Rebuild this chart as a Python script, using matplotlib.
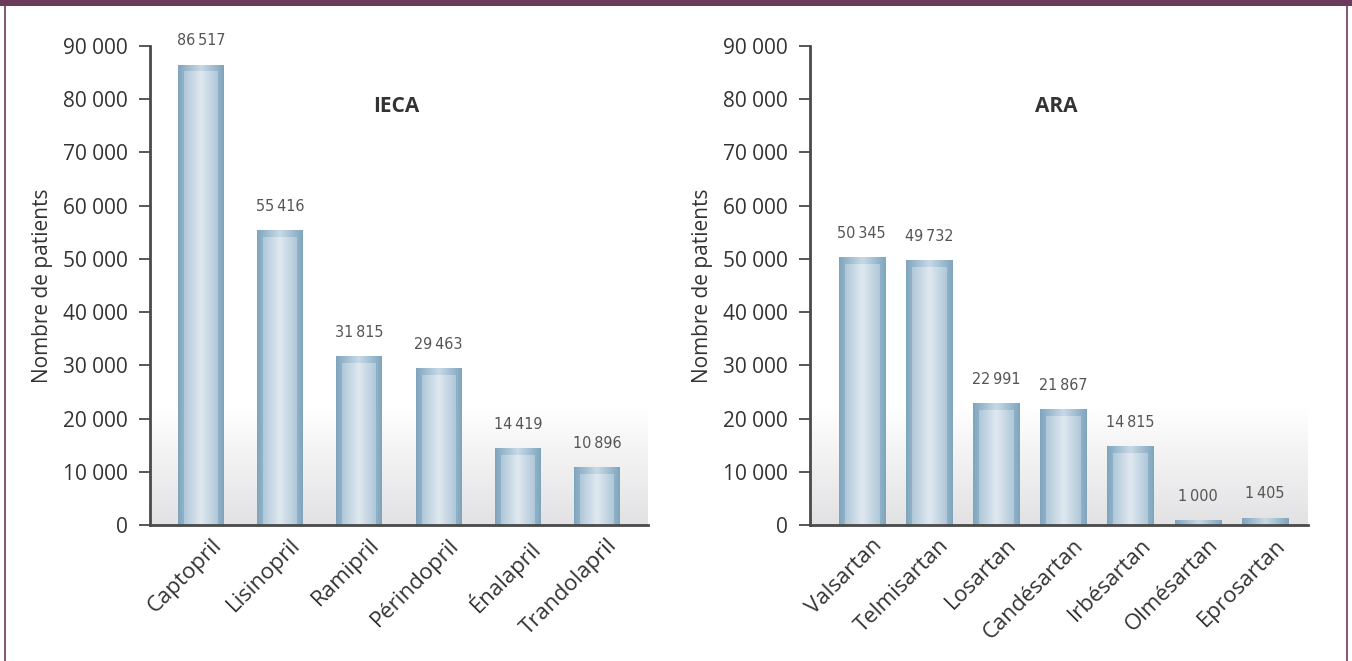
import numpy as np
import matplotlib
matplotlib.use('Agg')
import matplotlib.pyplot as plt
from matplotlib.colors import LinearSegmentedColormap
from matplotlib.patches import Rectangle
from matplotlib.lines import Line2D
from matplotlib.ticker import FuncFormatter
from matplotlib.transforms import ScaledTranslation

# data
ieca_names  = ['Captopril', 'Lisinopril', 'Ramipril', 'Périndopril', 'Énalapril', 'Trandolapril']
ieca_values = [86517, 55416, 31815, 29463, 14419, 10896]

ara_names  = ['Valsartan', 'Telmisartan', 'Losartan', 'Candésartan', 'Irbésartan', 'Olmésartan', 'Eprosartan']
ara_values = [50345, 49732, 22991, 21867, 14815, 1000, 1405]

y_ticks = [0, 10000, 20000, 30000, 40000, 50000, 60000, 70000, 80000, 90000]

# style
frame_col = '#6b3b5c'
text_col  = '#333333'
spine_col = '#4a4a4a'
main_font = ['Open Sans', 'DejaVu Sans']
narrow_font = ['DejaVu Sans']

outer_cmap = LinearSegmentedColormap.from_list('outer', ['#7ea5be', '#c8d9e6', '#7ea5be'])
inner_cmap = LinearSegmentedColormap.from_list('inner', ['#b0c8d9', '#dfe8f0', '#b0c8d9'])
bg_cmap    = LinearSegmentedColormap.from_list('bg', ['#e2e1e3', '#ffffff'])

grad = np.linspace(0, 1, 256).reshape(1, -1)
vgrad = np.linspace(0, 1, 256).reshape(-1, 1)


def fmt_thousands(v, pos=None):
    return '{:,}'.format(int(v)).replace(',', ' ')


def fmt_value(v):
    return '{:,}'.format(int(v)).replace(',', '\u2009')


def draw_panel(fig, ax, names, values, title, xlim, width):
    x = np.arange(len(names))
    ax.set_xlim(*xlim)
    ax.set_ylim(0, 90000)

    # soft grey floor behind the bars
    ax.imshow(vgrad, cmap=bg_cmap, extent=(xlim[0], xlim[1], 0, 22000),
              origin='lower', aspect='auto', zorder=0)

    bars = ax.bar(x, values, width, color='none', edgecolor='none', zorder=2)
    inset_x = width * 0.13
    inset_y = 1400
    for b in bars:
        x0, w, h = b.get_x(), b.get_width(), b.get_height()
        im = ax.imshow(grad, cmap=outer_cmap, extent=(x0, x0 + w, 0, h),
                       aspect='auto', zorder=2)
        im.set_clip_path(b)
        if h - inset_y > 0:
            ax.imshow(grad, cmap=inner_cmap, extent=(x0 + inset_x, x0 + w - inset_x, 0, h - inset_y),
                      aspect='auto', zorder=3)
        ax.annotate(fmt_value(h), (b.get_x() + w / 2, h), xytext=(0, 17),
                    textcoords='offset points', ha='center', va='center',
                    fontsize=11.5, color='#555555', family=narrow_font, stretch='condensed')

    ax.set_xlim(*xlim)
    ax.set_ylim(0, 90000)

    ax.set_xticks(x)
    ax.set_xticklabels(names, rotation=45, ha='right', rotation_mode='anchor',
                       fontsize=16, color=text_col, family=main_font)
    ax.tick_params(axis='x', length=0, pad=7)
    shift = ScaledTranslation(7 / 72, 0, fig.dpi_scale_trans)
    for lbl in ax.get_xticklabels():
        lbl.set_transform(lbl.get_transform() + shift)

    ax.set_yticks(y_ticks)
    ax.yaxis.set_major_formatter(FuncFormatter(fmt_thousands))
    ax.tick_params(axis='y', direction='out', length=8, width=1.3, color=spine_col,
                   labelsize=15, labelcolor=text_col, pad=8)
    for lbl in ax.get_yticklabels():
        lbl.set_family(main_font)

    ax.set_ylabel('Nombre de patients', fontsize=15, color=text_col, family=main_font, labelpad=7)

    for s in ['top', 'right']:
        ax.spines[s].set_visible(False)
    for s in ['left', 'bottom']:
        ax.spines[s].set_color(spine_col)
        ax.spines[s].set_linewidth(2)
    ax.spines['bottom'].set_zorder(5)

    ax.text(0.495, 0.873, title, transform=ax.transAxes, ha='center', va='center',
            fontsize=15, fontweight='bold', color='#333333', family=main_font)


fig = plt.figure(figsize=(13.52, 6.61), dpi=100)
fig.patch.set_facecolor('white')

ax1 = fig.add_axes([150 / 1352, 136 / 661, 498 / 1352, 479 / 661])
ax2 = fig.add_axes([810 / 1352, 136 / 661, 498 / 1352, 479 / 661])

draw_panel(fig, ax1, ieca_names, ieca_values, 'IECA', (-0.645, 5.645), 0.58)
draw_panel(fig, ax2, ara_names, ara_values, 'ARA', (-0.77, 6.64), 0.69)

# purple frame
fig.patches.append(Rectangle((0, 1 - 6 / 661), 1, 6 / 661, transform=fig.transFigure,
                             facecolor=frame_col, edgecolor='none'))
fig.lines.append(Line2D([5 / 1352, 5 / 1352], [0, 1], transform=fig.transFigure,
                        color=frame_col, linewidth=1.2))
fig.lines.append(Line2D([1347 / 1352, 1347 / 1352], [0, 1], transform=fig.transFigure,
                        color=frame_col, linewidth=1.2))

fig.savefig('out.png', dpi=100)
